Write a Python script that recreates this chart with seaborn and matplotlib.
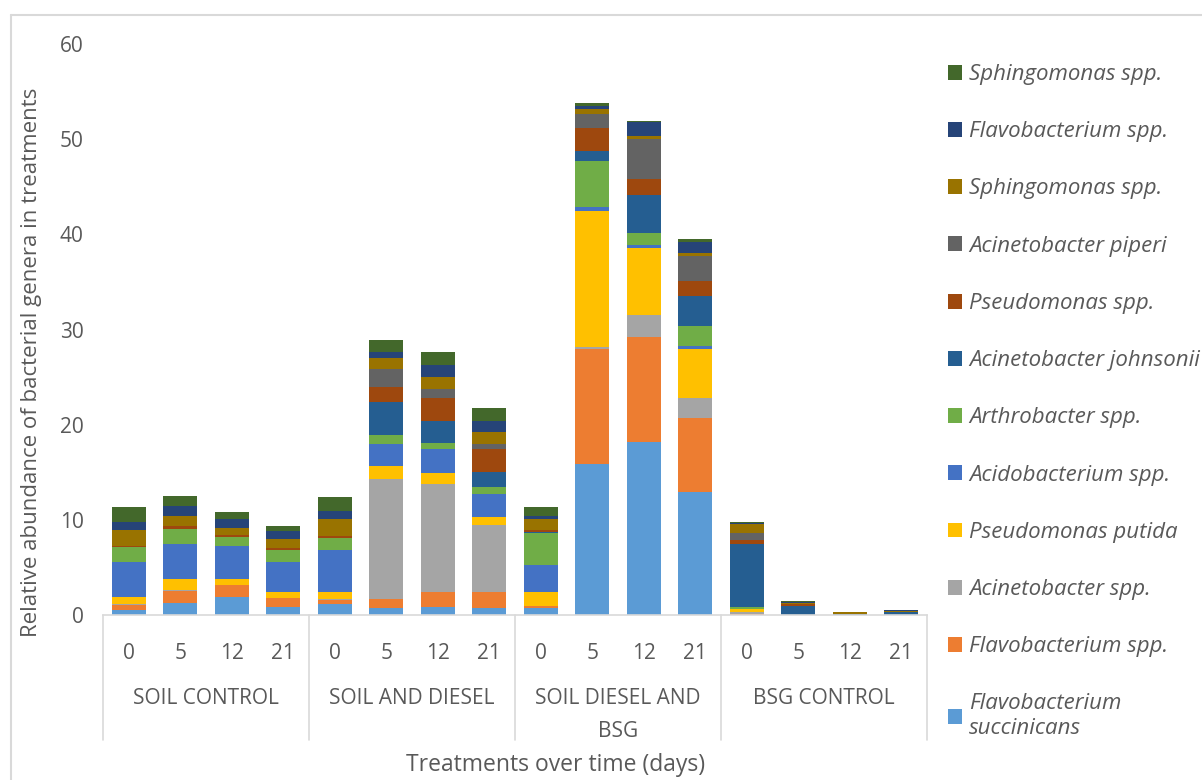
import numpy as np
import pandas as pd
import seaborn as sns
import matplotlib.pyplot as plt
from matplotlib.patches import Patch
from matplotlib.transforms import blended_transform_factory

# 16 samples: 4 treatments x 4 days
groups = ['SOIL CONTROL', 'SOIL AND DIESEL', 'SOIL DIESEL AND\nBSG', 'BSG CONTROL']
days = ['0', '5', '12', '21']
samples = [f'{g}|{d}' for g in groups for d in days]

# series, bottom of the stack first
f_succinicans = [0.5, 1.3, 1.9, 0.8, 1.15, 0.7, 0.8, 0.7, 0.7, 15.85, 18.15, 12.95, 0.05, 0, 0, 0]
flavo_spp = [0.6, 1.25, 1.2, 0.95, 0.45, 0.95, 1.6, 1.7, 0.25, 12.15, 11.05, 7.75, 0.05, 0, 0, 0]
acineto_spp = [0.1, 0.05, 0, 0.05, 0.05, 12.6, 11.35, 7.05, 0, 0.2, 2.3, 2.15, 0.25, 0, 0, 0]
p_putida = [0.7, 1.15, 0.65, 0.6, 0.75, 1.4, 1.15, 0.8, 1.45, 14.3, 7.1, 5.1, 0.25, 0, 0, 0]
acidobacterium = [3.7, 3.7, 3.55, 3.2, 4.4, 2.3, 2.55, 2.45, 2.9, 0.4, 0.25, 0.3, 0.05, 0, 0, 0]
arthrobacter = [1.5, 1.55, 0.9, 1.2, 1.25, 0.95, 0.65, 0.8, 3.3, 4.8, 1.3, 2.15, 0.2, 0, 0, 0]
a_johnsonii = [0, 0, 0, 0, 0, 3.5, 2.3, 1.5, 0.1, 1.1, 3.95, 3.15, 6.6, 0.95, 0.1, 0.3]
pseudo_spp = [0.2, 0.3, 0.2, 0.2, 0.3, 1.6, 2.45, 2.4, 0.2, 2.4, 1.75, 1.55, 0.45, 0.2, 0.02, 0.02]
a_piperi = [0, 0, 0, 0, 0, 1.8, 0.95, 0.55, 0, 1.4, 4.15, 2.6, 0.75, 0.05, 0.03, 0.03]
sphingo_spp_a = [1.6, 1.1, 0.7, 0.95, 1.75, 1.2, 1.25, 1.25, 1.2, 0.55, 0.3, 0.3, 0.95, 0.1, 0.12, 0.1]
flavo_spp_b = [0.9, 1.05, 0.95, 0.9, 0.85, 0.65, 1.25, 1.2, 0.35, 0.35, 1.5, 1.2, 0.1, 0.05, 0.05, 0.03]
sphingo_spp_b = [1.5, 1.05, 0.8, 0.45, 1.45, 1.25, 1.35, 1.4, 0.85, 0.3, 0.1, 0.3, 0.05, 0.1, 0.03, 0.02]

series_names = ['Flavobacterium\nsuccinicans', 'Flavobacterium spp.', 'Acinetobacter spp.',
                'Pseudomonas putida', 'Acidobacterium spp.', 'Arthrobacter spp.',
                'Acinetobacter johnsonii', 'Pseudomonas spp.', 'Acinetobacter piperi',
                'Sphingomonas spp.', 'Flavobacterium spp.', 'Sphingomonas spp.']
series_values = [f_succinicans, flavo_spp, acineto_spp, p_putida, acidobacterium, arthrobacter,
                 a_johnsonii, pseudo_spp, a_piperi, sphingo_spp_a, flavo_spp_b, sphingo_spp_b]
colors = ['#5B9BD5', '#ED7D31', '#A5A5A5', '#FFC000', '#4472C4', '#70AD47',
          '#255E91', '#9E480E', '#636363', '#997300', '#264478', '#43682B']

sns.set_style('white')
plt.rcParams['font.family'] = ['Open Sans', 'DejaVu Sans']
txt = '#595959'

df = pd.DataFrame(np.array(series_values).T, index=samples)
cum = df.cumsum(axis=1)

fig = plt.figure(figsize=(12.02, 7.80), dpi=100)
ax = fig.add_axes([103 / 1202, 165 / 780, 824 / 1202, 571 / 780])

# draw cumulative totals from the top series down so each layer sits on the previous one
for i in reversed(range(len(series_names))):
    sns.barplot(x=samples, y=cum[i].values, order=samples, color=colors[i],
                saturation=1, width=0.66, linewidth=0, ax=ax)

ax.set_ylim(0, 60)
ax.set_xlim(-0.5, 15.5)
ax.set_yticks(range(0, 61, 10))
ax.tick_params(axis='y', length=0, pad=14, labelsize=15, labelcolor=txt)
ax.tick_params(axis='x', length=0, pad=20, labelsize=15, labelcolor=txt)
ax.set_xticks(range(16))
ax.set_xticklabels([d for g in groups for d in days])
ax.set_xlabel('')
ax.set_ylabel('')
sns.despine(ax=ax, left=True, top=True, right=True, bottom=False)
ax.spines['bottom'].set_color('#D9D9D9')
ax.spines['bottom'].set_linewidth(1.2)

# group separators and labels under the day ticks
trans = blended_transform_factory(ax.transData, ax.transAxes)
for xs in [-0.5, 3.5, 7.5, 11.5, 15.5]:
    ax.plot([xs, xs], [0, -125 / 571], transform=trans, color='#D9D9D9', lw=1.2, clip_on=False)
for k, g in enumerate(groups):
    ax.text(4 * k + 1.5, -73 / 571, g, transform=trans, ha='center', va='top',
            fontsize=15, color=txt, linespacing=1.75)

fig.text(556 / 1202, 15 / 780, 'Treatments over time (days)', ha='center', va='center',
         fontsize=16.5, color=txt)
fig.text(32 / 1202, 1 - 362 / 780, 'Relative abundance of bacterial genera in treatments',
         rotation=90, ha='center', va='center', fontsize=16, color=txt)

# legend, top entry = top of the stack
handles = [Patch(facecolor=colors[i], edgecolor='none') for i in reversed(range(12))]
labels = [series_names[i] for i in reversed(range(12))]
fig.legend(handles, labels, loc='upper left', bbox_to_anchor=(948 / 1202, 1 - 64 / 780),
           frameon=False, prop={'style': 'italic', 'size': 16}, labelcolor=txt,
           handlelength=0.65, handleheight=0.65, handletextpad=0.3, labelspacing=1.63,
           borderpad=0, borderaxespad=0)

# light outer frame like the exported chart area
fig.add_artist(plt.Line2D([11 / 1202, 11 / 1202], [0, 1 - 15 / 780], transform=fig.transFigure,
                          color='#D9D9D9', lw=1.5))
fig.add_artist(plt.Line2D([11 / 1202, 1], [1 - 15 / 780, 1 - 15 / 780], transform=fig.transFigure,
                          color='#D9D9D9', lw=1.5))

fig.savefig('out.png', dpi=100)
